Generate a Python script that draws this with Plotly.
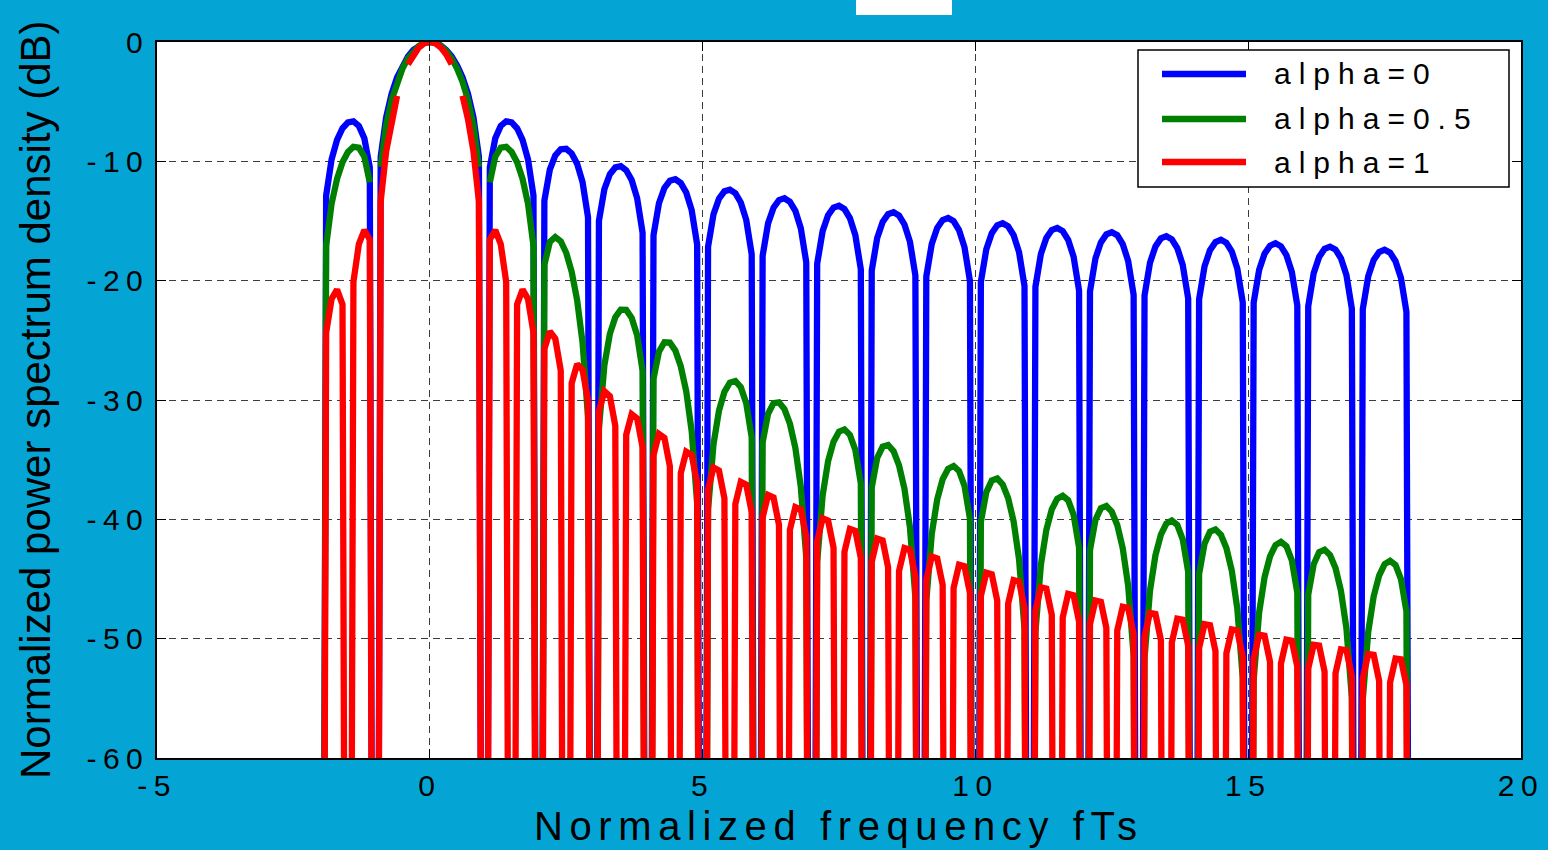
import numpy as np
import plotly.graph_objects as go

# ---------------- data ----------------
FLOOR = -160.0  # spectral nulls (far below the visible range)

freq = [round(v, 1) for v in np.arange(-20, 181) / 10.0]  # sample grid fTs = -2 ... 18, step 0.1

series_names = ["alpha=0", "alpha=0.5", "alpha=1"]

psd_alpha0 = [
    FLOOR,
    -12.86, -9.83, -8.20, -7.23, -6.73, -6.65, -7.03, -8.07, -10.49, FLOOR,
    -9.61, -6.31, -4.34, -2.97, -1.96, -1.21, -0.66, -0.29, -0.07, 0.0,
    -0.07, -0.29, -0.66, -1.21, -1.96, -2.97, -4.34, -6.31, -9.61, FLOOR,
    -10.49, -8.07, -7.03, -6.65, -6.73, -7.23, -8.20, -9.83, -12.86, FLOOR,
    -13.29, -10.70, -9.51, -8.99, -8.95, -9.34, -10.20, -11.75, -14.69, FLOOR,
    -14.98, -12.33, -11.08, -10.51, -10.41, -10.75, -11.57, -13.08, -15.98, FLOOR,
    -16.20, -13.51, -12.23, -11.63, -11.50, -11.82, -12.61, -14.09, -16.97, FLOOR,
    -17.15, -14.44, -13.13, -12.51, -12.37, -12.67, -13.45, -14.91, -17.78, FLOOR,
    -17.92, -15.20, -13.88, -13.25, -13.10, -13.39, -14.15, -15.61, -18.46, FLOOR,
    -18.58, -15.85, -14.52, -13.88, -13.72, -14.00, -14.76, -16.20, -19.05, FLOOR,
    -19.16, -16.42, -15.08, -14.43, -14.26, -14.54, -15.29, -16.73, -19.56, FLOOR,
    -19.66, -16.92, -15.58, -14.92, -14.75, -15.01, -15.76, -17.19, -20.03, FLOOR,
    -20.11, -17.37, -16.02, -15.36, -15.18, -15.44, -16.18, -17.61, -20.44, FLOOR,
    -20.52, -17.77, -16.42, -15.76, -15.58, -15.84, -16.57, -18.00, -20.83, FLOOR,
    -20.90, -18.14, -16.79, -16.12, -15.94, -16.19, -16.93, -18.35, -21.18, FLOOR,
    -21.24, -18.49, -17.13, -16.46, -16.27, -16.53, -17.26, -18.68, -21.50, FLOOR,
    -21.56, -18.80, -17.44, -16.77, -16.58, -16.83, -17.56, -18.98, -21.80, FLOOR,
    -21.86, -19.10, -17.74, -17.07, -16.87, -17.12, -17.85, -19.27, -22.08, FLOOR,
    -22.14, -19.38, -18.01, -17.34, -17.15, -17.39, -18.12, -19.53, -22.35, FLOOR,
    -22.40, -19.64, -18.27, -17.60, -17.40, -17.65, -18.37, -19.78, -22.60, FLOOR,
]

psd_alpha05 = [
    FLOOR,
    -17.08, -13.55, -11.46, -10.08, -9.21, -8.78, -8.85, -9.61, -11.77, None,
    -10.46, -6.97, -4.85, -3.34, -2.22, -1.37, -0.75, -0.33, -0.08, 0.0,
    -0.08, -0.33, -0.75, -1.37, -2.22, -3.34, -4.85, -6.97, -10.46, None,
    -11.77, -9.61, -8.85, -8.78, -9.21, -10.08, -11.46, -13.55, -17.08, FLOOR,
    -18.67, -16.76, -16.34, -16.69, -17.66, -19.25, -21.62, -25.20, -31.45, FLOOR,
    -32.39, -27.09, -24.46, -23.06, -22.43, -22.45, -23.11, -24.58, -27.56, FLOOR,
    -28.24, -25.94, -25.16, -25.19, -25.85, -27.17, -29.28, -32.62, -38.65, FLOOR,
    -39.19, -33.70, -30.89, -29.31, -28.54, -28.41, -28.93, -30.27, -33.12, FLOOR,
    -33.56, -31.15, -30.26, -30.19, -30.76, -31.99, -34.00, -37.27, -43.20, FLOOR,
    -43.58, -38.01, -35.13, -33.49, -32.65, -32.46, -32.92, -34.19, -36.99, FLOOR,
    -37.32, -34.85, -33.90, -33.77, -34.29, -35.48, -37.45, -40.66, -46.55, FLOOR,
    -46.85, -41.24, -38.33, -36.64, -35.76, -35.53, -35.95, -37.19, -39.95, FLOOR,
    -40.21, -37.72, -36.74, -36.58, -37.07, -38.22, -40.16, -43.34, -49.21, FLOOR,
    -49.45, -43.82, -40.88, -39.17, -38.27, -38.02, -38.40, -39.62, -42.36, FLOOR,
    -42.58, -40.06, -39.06, -38.88, -39.36, -40.48, -42.41, -45.57, -51.42, FLOOR,
    -51.62, -45.98, -43.01, -41.29, -40.36, -40.10, -40.47, -41.67, -44.39, FLOOR,
    -44.58, -42.04, -41.03, -40.84, -41.29, -42.41, -44.32, -47.47, -53.30, FLOOR,
    -53.48, -47.82, -44.85, -43.11, -42.16, -41.89, -42.25, -43.44, -46.15, FLOOR,
    -46.31, -43.77, -42.74, -42.54, -42.99, -44.08, -45.99, -49.12, -54.95, FLOOR,
    -55.10, -49.44, -46.45, -44.71, -43.75, -43.47, -43.82, -45.00, -47.70, FLOOR,
]

psd_alpha1 = [
    FLOOR,
    -24.36, -21.53, -20.74, -21.99, FLOOR, -20.10, -16.94, -15.77, -16.55, FLOOR,
    -13.33, -9.16, -6.47, -4.51, None, -1.87, -1.03, -0.45, -0.11, 0.0,
    -0.11, -0.45, -1.03, -1.87, None, -4.51, -6.47, -9.16, -13.33, FLOOR,
    -16.55, -15.77, -16.94, -20.10, FLOOR, -21.99, -20.74, -21.53, -24.36, FLOOR,
    -25.72, -24.26, -24.86, -27.52, FLOOR, -28.60, -27.00, -27.49, -30.05, FLOOR,
    -30.93, -29.27, -29.68, -32.17, FLOOR, -32.91, -31.18, -31.54, -33.97, FLOOR,
    -34.63, -32.85, -33.17, -35.56, FLOOR, -36.14, -34.33, -34.61, -36.97, FLOOR,
    -37.50, -35.66, -35.91, -38.24, FLOOR, -38.72, -36.86, -37.09, -39.40, FLOOR,
    -39.84, -37.96, -38.17, -40.47, FLOOR, -40.88, -38.98, -39.18, -41.45, FLOOR,
    -41.82, -39.92, -40.10, -42.37, FLOOR, -42.72, -40.80, -40.97, -43.22, FLOOR,
    -43.55, -41.62, -41.77, -44.02, FLOOR, -44.34, -42.40, -42.55, -44.77, FLOOR,
    -45.07, -43.12, -43.27, -45.49, FLOOR, -45.76, -43.81, -43.94, -46.17, FLOOR,
    -46.42, -44.47, -44.60, -46.81, FLOOR, -47.06, -45.09, -45.21, -47.42, FLOOR,
    -47.66, -45.69, -45.80, -48.01, FLOOR, -48.24, -46.25, -46.37, -48.57, FLOOR,
    -48.79, -46.80, -46.91, -49.10, FLOOR, -49.31, -47.33, -47.43, -49.62, FLOOR,
    -49.82, -47.84, -47.93, -50.12, FLOOR, -50.32, -48.32, -48.41, -50.59, FLOOR,
    -50.78, -48.78, -48.87, -51.05, FLOOR, -51.23, -49.23, -49.32, -51.50, FLOOR,
    -51.67, -49.67, -49.76, -51.94, FLOOR, -52.10, -50.09, -50.18, -52.34, FLOOR,
    -52.51, -50.51, -50.58, -52.75, FLOOR, -52.91, -50.90, -50.97, -53.14, FLOOR,
    -53.30, -51.29, -51.36, -53.53, FLOOR, -53.68, -51.66, -51.73, -53.89, FLOOR,
]

x_ticks = [-5, 0, 5, 10, 15, 20]
x_ticklabels = ["-5", "0", "5", "10", "15", "20"]
y_ticks = [0, -10, -20, -30, -40, -50, -60]
y_ticklabels = ["0", "-10", "-20", "-30", "-40", "-50", "-60"]

x_title = "Normalized frequency fTs"
y_title = "Normalized power spectrum density (dB)"

assert len(freq) == len(psd_alpha0) == len(psd_alpha05) == len(psd_alpha1) == 201

# ---------------- styling ----------------
W, H = 1548, 850
ML, MR, MT, MB = 157, 27, 42, 92
PW, PH = W - ML - MR, H - MT - MB
BG = "rgb(4,165,213)"
FONT = "Liberation Sans, Arial, Helvetica, sans-serif"
colors = ["#0000FF", "#008000", "#FF0000"]
LW = 6.3


def sp(text, px):
    return f'<span style="letter-spacing:{px}px">{text}</span>'


def px_x(px):
    return (px - ML) / PW


def px_y(py):
    return (H - MB - py) / PH


fig = go.Figure()
for name, ys, col in zip(series_names, [psd_alpha0, psd_alpha05, psd_alpha1], colors):
    fig.add_trace(go.Scatter(x=freq, y=ys, mode="lines", name=name,
                             line=dict(color=col, width=LW), connectgaps=False,
                             showlegend=False))

axis_common = dict(
    automargin=False,
    showline=True, linecolor="black", linewidth=1.5, mirror="ticks",
    ticks="inside", ticklen=9, tickwidth=1.2, tickcolor="black",
    showgrid=True, gridcolor="#3c3c3c", gridwidth=1, griddash="7px,5px",
    zeroline=False, tickfont=dict(family=FONT, size=30, color="black"),
)

fig.update_xaxes(range=[-5, 20], tickmode="array", tickvals=x_ticks,
                 ticktext=[sp(t, 6.5) for t in x_ticklabels], **axis_common)
fig.update_yaxes(range=[-60, 0], tickmode="array", tickvals=y_ticks,
                 ticktext=[sp(t, 6.5) for t in y_ticklabels], **axis_common)

shapes = []
annotations = []

# blank white title box at the top
shapes.append(dict(type="rect", xref="paper", yref="paper",
                   x0=px_x(856), x1=px_x(952), y0=px_y(15), y1=px_y(-5),
                   fillcolor="white", line=dict(width=0), layer="above"))

# legend box
shapes.append(dict(type="rect", xref="paper", yref="paper",
                   x0=px_x(1138), x1=px_x(1509), y0=px_y(187), y1=px_y(50),
                   fillcolor="white", line=dict(color="black", width=1.5), layer="above"))
for name, col, ly in zip(series_names, colors, [74, 119, 162]):
    shapes.append(dict(type="line", xref="paper", yref="paper",
                       x0=px_x(1162), x1=px_x(1246), y0=px_y(ly), y1=px_y(ly),
                       line=dict(color=col, width=LW), layer="above"))
    annotations.append(dict(xref="paper", yref="paper", x=px_x(1272), y=px_y(ly),
                            xanchor="left", yanchor="middle", showarrow=False,
                            text=sp(name, 8), font=dict(family=FONT, size=30, color="black")))

# axis titles
annotations.append(dict(xref="paper", yref="paper", x=0.5, y=px_y(826),
                        xanchor="center", yanchor="middle", showarrow=False,
                        text=sp(x_title, 6.6), font=dict(family=FONT, size=40, color="black")))
annotations.append(dict(xref="paper", yref="paper", x=px_x(35), y=0.5,
                        xanchor="center", yanchor="middle", showarrow=False, textangle=-90,
                        text=y_title, font=dict(family=FONT, size=42, color="black")))

fig.update_layout(
    width=W, height=H,
    margin=dict(l=ML, r=MR, t=MT, b=MB, pad=0, autoexpand=False),
    paper_bgcolor=BG, plot_bgcolor="white",
    showlegend=False,
    shapes=shapes, annotations=annotations,
    font=dict(family=FONT, color="black"),
)

page_fix = (
    "document.documentElement.style.margin='0';"
    "document.documentElement.style.padding='0';"
    "document.documentElement.style.overflow='hidden';"
    "document.body.style.margin='0';"
    "document.body.style.padding='0';"
    "document.body.style.overflow='hidden';"
)

fig.write_html("out.html", include_plotlyjs=True, config={"displayModeBar": False},
               post_script=page_fix)
